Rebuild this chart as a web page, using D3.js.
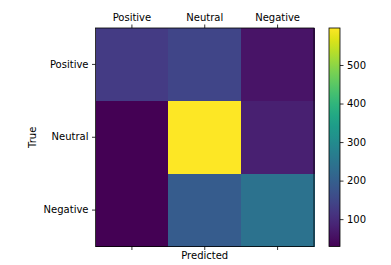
<!DOCTYPE html>
<html><head><meta charset="utf-8">
<script src="https://cdn.jsdelivr.net/npm/d3@7"></script>
<style>body{margin:0;background:#fff}svg{display:block}text{font-family:"DejaVu Sans",sans-serif;font-size:10px;fill:#000}</style>
</head><body><svg width="391" height="265"></svg>
<script>
const categories = ["Positive","Neutral","Negative"];
const matrix = [
  [128, 145, 60],
  [29, 596, 78],
  [30, 192, 242]
];
const cbTicks = [100,200,300,400,500];
const vmin = 29, vmax = 596;

const svg = d3.select("svg");
const L=95.5, T=28, S=218.5;
const x = d3.scaleBand().domain(categories).range([L, L+S]);
const y = d3.scaleBand().domain(categories).range([T, T+S]);
const color = d3.scaleSequential(d3.interpolateViridis).domain([vmin, vmax]);

const cells = [];
matrix.forEach((row,i)=>row.forEach((v,j)=>cells.push({r:categories[i],c:categories[j],v})));
svg.append("g").selectAll("rect").data(cells).join("rect")
  .attr("x",d=>x(d.c)).attr("y",d=>y(d.r))
  .attr("width",x.bandwidth()+0.5).attr("height",y.bandwidth()+0.5)
  .attr("fill",d=>color(d.v)).attr("shape-rendering","crispEdges");

svg.append("rect").attr("x",L).attr("y",T).attr("width",S).attr("height",S)
  .attr("fill","none").attr("stroke","#000").attr("stroke-width",0.8);

function styleAxis(g){g.select(".domain").remove();g.selectAll(".tick line").attr("stroke","#000").attr("stroke-width",0.8);g.selectAll(".tick text").style("font-size","10px").attr("fill","#000");}

svg.append("g").attr("transform",`translate(0,${T})`)
  .call(d3.axisTop(x).tickSize(3.5).tickPadding(3.5)).call(styleAxis);
svg.append("g").attr("transform",`translate(0,${T+S})`)
  .call(d3.axisBottom(x).tickSize(3.5).tickFormat("")).call(styleAxis);
svg.append("g").attr("transform",`translate(${L},0)`)
  .call(d3.axisLeft(y).tickSize(3.5).tickPadding(3.5)).call(styleAxis);

svg.append("text").attr("x",L+S/2).attr("y",258.5).attr("text-anchor","middle").text("Predicted");
svg.append("text").attr("transform",`translate(36,${T+S/2}) rotate(-90)`).attr("text-anchor","middle").text("True");

// colorbar
const cbX=329, cbW=11;
const cy = d3.scaleLinear().domain([vmin,vmax]).range([T+S, T]);
const defs = svg.append("defs");
const grad = defs.append("linearGradient").attr("id","vg").attr("x1",0).attr("y1",1).attr("x2",0).attr("y2",0);
d3.range(0,1.0001,0.05).forEach(t=>grad.append("stop").attr("offset",t).attr("stop-color",d3.interpolateViridis(t)));
svg.append("rect").attr("x",cbX).attr("y",T).attr("width",cbW).attr("height",S).attr("fill","url(#vg)");
svg.append("rect").attr("x",cbX).attr("y",T).attr("width",cbW).attr("height",S).attr("fill","none").attr("stroke","#000").attr("stroke-width",0.8);
svg.append("g").attr("transform",`translate(${cbX+cbW},0)`)
  .call(d3.axisRight(cy).tickValues(cbTicks).tickSize(3.5).tickPadding(3.5)).call(styleAxis);
</script></body></html>
